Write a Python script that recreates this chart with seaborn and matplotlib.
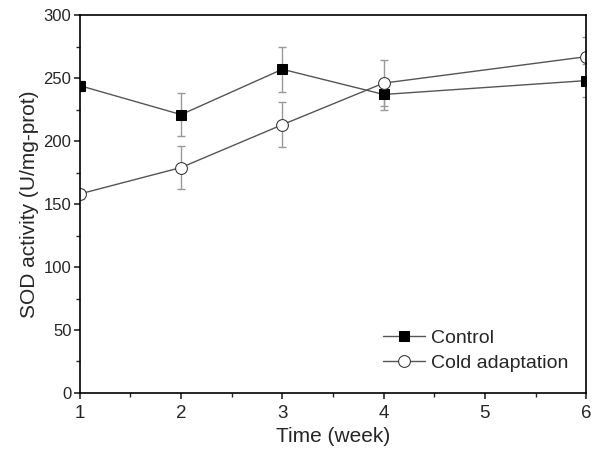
import matplotlib
matplotlib.use("Agg")
import matplotlib.pyplot as plt
import matplotlib.ticker as mticker
import pandas as pd
import seaborn as sns

## Data
weeks = [1, 2, 3, 4, 6]
control = [244, 221, 257, 237, 248]
control_err = [4, 17, 18, 12, 13]
cold = [158, 179, 213, 246, 267]
cold_err = [4, 17, 18, 18, 16]

df = pd.DataFrame({
    "week": weeks * 2,
    "sod": control + cold,
    "err": control_err + cold_err,
    "group": ["Control"] * len(weeks) + ["Cold adaptation"] * len(weeks),
})

sns.set_style("ticks")
plt.rcParams['font.family'] = ['Liberation Sans', 'DejaVu Sans']

fig = plt.figure(figsize=(6, 4.58), dpi=100)
ax = fig.add_axes([0.133, 0.142, 0.844, 0.825])

# error bars first so the markers sit on top
for name, sub in df.groupby("group"):
    ax.errorbar(sub["week"], sub["sod"], yerr=sub["err"], fmt="none",
                ecolor="#999999", elinewidth=1, capsize=3, capthick=1, zorder=1)

sns.lineplot(data=df, x="week", y="sod", hue="group", style="group",
             hue_order=["Control", "Cold adaptation"],
             style_order=["Control", "Cold adaptation"],
             palette={"Control": "#555555", "Cold adaptation": "#555555"},
             markers={"Control": "s", "Cold adaptation": "o"},
             dashes=False, linewidth=1, markersize=8, ax=ax, zorder=2)


def paint(ln):
    if ln.get_marker() == "s":
        ln.set_markerfacecolor("black")
        ln.set_markeredgecolor("black")
        ln.set_markersize(7.5)
    elif ln.get_marker() == "o":
        ln.set_markerfacecolor("white")
        ln.set_markeredgecolor("#333333")
        ln.set_markersize(8.5)


for ln in ax.get_lines():
    paint(ln)

ax.set_xlim(1, 6)
ax.set_ylim(0, 300)
ax.xaxis.set_major_locator(mticker.MultipleLocator(1))
ax.xaxis.set_minor_locator(mticker.MultipleLocator(0.5))
ax.yaxis.set_major_locator(mticker.MultipleLocator(50))
ax.yaxis.set_minor_locator(mticker.MultipleLocator(25))
ax.tick_params(which="major", direction="out", length=4, width=1.2)
ax.tick_params(which="minor", direction="out", length=3, width=1)
ax.tick_params(axis="x", which="major", labelsize=13.5, pad=5)
ax.tick_params(axis="y", which="major", labelsize=12, pad=2)
for s in ax.spines.values():
    s.set_linewidth(1.2)
    s.set_color("black")

ax.set_xlabel("Time (week)", fontsize=15, labelpad=3)
ax.set_ylabel("SOD activity (U/mg-prot)", fontsize=15, labelpad=3)

h, l = ax.get_legend_handles_labels()
for hd in h:
    paint(hd)
ax.legend(h, l, loc="lower right", frameon=False, fontsize=14,
          bbox_to_anchor=(1.0, 0.01), handlelength=2.2, handletextpad=0.3,
          labelspacing=0.35)

fig.savefig("out.png", dpi=100)
